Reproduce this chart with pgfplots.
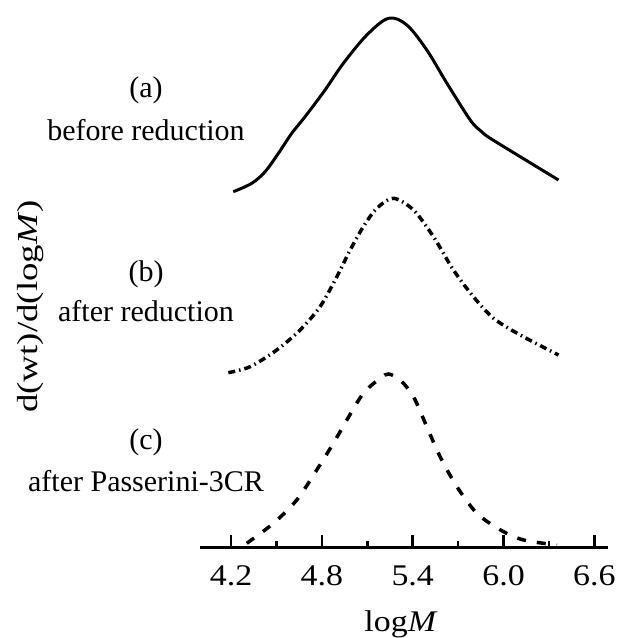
\documentclass[border=0pt]{standalone}
\usepackage{fontspec}
\setmainfont{Liberation Serif}
\usepackage{pgfplots}
\pgfplotsset{compat=1.18}
\begin{document}
\fontsize{30bp}{36bp}\selectfont
\begin{tikzpicture}
\useasboundingbox (0,0) rectangle (617bp,638bp);
\begin{axis}[at={(200bp,90bp)}, anchor=south west, scale only axis,
  width=408bp, height=548bp, xmin=3.995, xmax=6.69, ymin=0, ymax=548,
  axis x line*=bottom, axis y line=none, clip=false,
  xtick={4.2,4.8,5.4,6.0,6.6}, minor xtick={4.5,5.1,5.7,6.3},
  xticklabels={4.2,4.8,5.4,6.0,6.6},
  tick align=inside, major tick length=13bp, minor tick length=7bp,
  every tick/.style={black, line width=2.5bp},
  axis line style={line width=3bp},
  tick label style={font=\fontsize{30bp}{36bp}\selectfont},
  xticklabel style={anchor=base, yshift=-37.7bp, xscale=1.13}]
\addplot[black, line width=3bp, smooth, tension=0.55] coordinates {
(4.215,356.3) (4.337,364.7) (4.425,376.3) (4.513,394.7) (4.601,414.7) (4.689,431.3)
(4.821,458) (4.942,484.7) (5.097,513) (5.240,529.7) (5.361,523) (5.493,498)
(5.626,464.7) (5.780,428) (5.850,417) (5.912,409.7) (6.110,391.3) (6.363,368)};
\addplot[black, line width=3.5bp, smooth, tension=0.5, dash pattern=on 7bp off 4bp on 1.5bp off 4bp] coordinates {
(4.182,175.3) (4.326,181.3) (4.502,198) (4.656,218) (4.788,241.3) (4.899,271.3)
(4.987,298) (5.074,321.3) (5.163,339.7) (5.273,349.7) (5.405,338) (5.537,311.3)
(5.669,278) (5.801,251.3) (5.934,229.7) (6.110,213) (6.363,193)};
\addplot[black, line width=3.5bp, smooth, tension=0.5, dash pattern=on 9bp off 11bp] coordinates {
(4.304,4.7) (4.480,24.7) (4.634,48) (4.766,78) (4.876,104.7) (4.965,128)
(5.074,154.7) (5.185,169.7) (5.240,174) (5.317,168) (5.405,151.3) (5.493,121.3)
(5.581,91.3) (5.692,61.3) (5.824,34.7) (5.980,18) (6.132,8) (6.353,3)};
\end{axis}
\node[anchor=base] at (146bp,540.1bp) {(a)};
\node[anchor=base] at (146bp,497.3bp) {before reduction};
\node[anchor=base] at (146bp,356.4bp) {(b)};
\node[anchor=base] at (146bp,316.3bp) {after reduction};
\node[anchor=base] at (146bp,188.3bp) {(c)};
\node[anchor=base] at (146bp,146.3bp) {after Passerini-3CR};
\node[rotate=90, xscale=1.27, font=\fontsize{29bp}{34bp}\selectfont] at (31bp,331.5bp) {d(wt)/d(log\textit{M})};
\node[anchor=base, xscale=1.13] at (401bp,6.3bp) {log\textit{M}};
\end{tikzpicture}
\end{document}
